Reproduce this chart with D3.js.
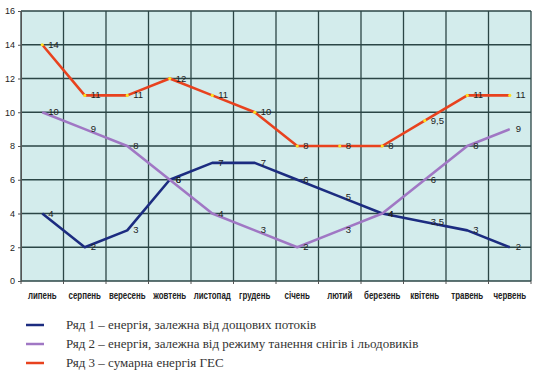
<!DOCTYPE html>
<html lang="uk">
<head>
<meta charset="UTF-8">
<script src="https://d3js.org/d3.v7.min.js"></script>
<style>
  body { margin: 0; background: #fff; }
  .tick text { font-family: 'Liberation Sans', Arial, sans-serif; }
  .lbl { font-family: 'Liberation Sans', Arial, sans-serif; font-size: 9.5px; fill: #222; }
  .month { font-family: 'Liberation Sans', Arial, sans-serif; font-size: 11px; font-weight: bold; fill: #222; }
  .legend text { font-family: 'Liberation Serif', 'DejaVu Serif', serif; font-size: 13px; fill: #333; }
</style>
</head>
<body>
<script>
const width = 541, height = 376;

const months = ["липень", "серпень", "вересень", "жовтень", "листопад", "грудень",
                "січень", "лютий", "березень", "квітень", "травень", "червень"];
const rain  = [4, 2, 3, 6, 7, 7, 6, 5, 4, 3.5, 3, 2];
const snow  = [10, 9, 8, 6, 4, 3, 2, 3, 4, 6, 8, 9];
const total = [14, 11, 11, 12, 11, 10, 8, 8, 8, 9.5, 11, 11];
const yTicks = [0, 2, 4, 6, 8, 10, 12, 14, 16];
const legendNames = [
  "Ряд 1 – енергія, залежна від дощових потоків",
  "Ряд 2 – енергія, залежна від режиму танення снігів і льодовиків",
  "Ряд 3 – сумарна енергія ГЕС"
];

const series = [
  {values: rain,  color: "#1c2c80"},
  {values: snow,  color: "#a077c4"},
  {values: total, color: "#e8421e", dots: true}
];

const plotL = 21, plotR = 531, plotT = 11, plotB = 281;

const svg = d3.select("body").append("svg")
    .attr("width", width).attr("height", height);

const x = d3.scaleBand().domain(months).range([plotL, plotR]).padding(0);
const y = d3.scaleLinear().domain([0, 16]).range([plotB, plotT]);
const fmt = v => String(v).replace(".", ",");
const bounds = d3.range(months.length + 1).map(i => plotL + i * x.bandwidth());

// plot background
svg.append("rect")
    .attr("x", plotL).attr("y", plotT)
    .attr("width", plotR - plotL).attr("height", plotB - plotT)
    .attr("fill", "#d3ecec");

// grid
const grid = svg.append("g").attr("stroke", "#2b4646").attr("stroke-width", 1.3);
grid.selectAll("line.h").data(yTicks).join("line")
    .attr("x1", plotL).attr("x2", plotR)
    .attr("y1", d => y(d)).attr("y2", d => y(d));
grid.selectAll("line.v").data(bounds).join("line")
    .attr("x1", d => d).attr("x2", d => d)
    .attr("y1", plotT).attr("y2", plotB);

// axes
svg.append("g")
    .attr("transform", `translate(${plotL},0)`)
    .call(d3.axisLeft(y).tickValues(yTicks).tickSize(3).tickPadding(3))
    .call(g => g.select(".domain").attr("stroke", "#555"))
    .call(g => g.selectAll(".tick line").attr("stroke", "#555"))
    .call(g => g.selectAll(".tick text").attr("font-size", 9).attr("fill", "#222"));

svg.append("g").selectAll("line").data(bounds).join("line")
    .attr("x1", d => d).attr("x2", d => d)
    .attr("y1", plotB).attr("y2", plotB + 3)
    .attr("stroke", "#555");

// condensed month names (no narrow font installed, so squeeze horizontally)
svg.append("g").selectAll("text").data(months).join("text")
    .attr("class", "month")
    .attr("text-anchor", "middle")
    .attr("transform", d => `translate(${x(d) + x.bandwidth() / 2},299) scale(0.72,1)`)
    .text(d => d);

// lines
const line = d3.line()
    .x((d, i) => x(months[i]) + x.bandwidth() / 2)
    .y(d => y(d));

series.forEach(s => {
  svg.append("path")
      .datum(s.values)
      .attr("fill", "none")
      .attr("stroke", s.color)
      .attr("stroke-width", 2.6)
      .attr("stroke-linejoin", "round")
      .attr("d", line);
  if (s.dots) {
    svg.append("g").selectAll("circle").data(s.values).join("circle")
        .attr("cx", (d, i) => x(months[i]) + x.bandwidth() / 2)
        .attr("cy", d => y(d))
        .attr("r", 1.6)
        .attr("fill", "#ffe020");
  }
});

// data labels
series.forEach(s => {
  svg.append("g").selectAll("text").data(s.values).join("text")
      .attr("class", "lbl")
      .attr("x", (d, i) => x(months[i]) + x.bandwidth() / 2 + 6)
      .attr("y", d => y(d) + 3)
      .text(d => fmt(d));
});

// legend
const legend = svg.append("g").attr("class", "legend");
legendNames.forEach((name, i) => {
  const ly = 325 + i * 19;
  legend.append("line")
      .attr("x1", 26).attr("x2", 44)
      .attr("y1", ly).attr("y2", ly)
      .attr("stroke", series[i].color).attr("stroke-width", 2.5);
  legend.append("text")
      .attr("x", 66).attr("y", ly + 4)
      .text(name);
});
</script>
</body>
</html>
